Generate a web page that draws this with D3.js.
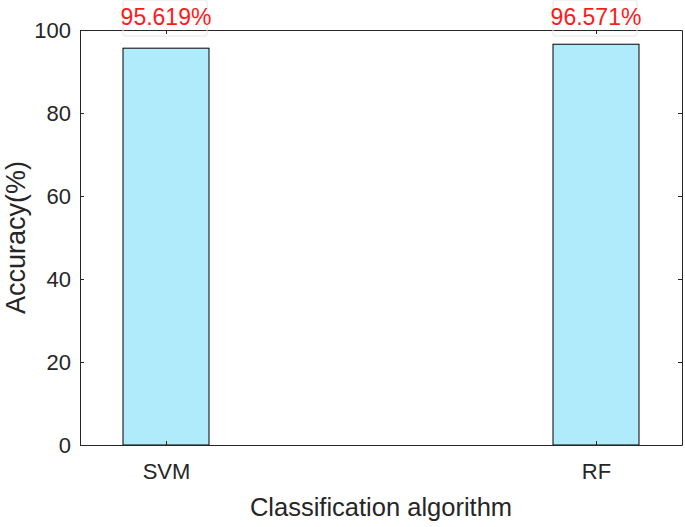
<!DOCTYPE html>
<html>
<head>
<meta charset="utf-8">
<script src="https://cdn.jsdelivr.net/npm/d3@7"></script>
<style>
	body { margin: 0; background: #fff; }
	svg { display: block; font-family: "Liberation Sans", Arial, sans-serif; }
</style>
</head>
<body>
<svg id="chart" width="685" height="527"></svg>
<script>
"use strict";

//
// Data
//
var categories = ["SVM", "RF"];
var positions = [1, 2];
var accuracy = [95.619, 96.571];
var valueLabels = ["95.619%", "96.571%"];
var yTicks = [0, 20, 40, 60, 80, 100];

//
// Setup Variables
//
var margin = { top: 30, right: 3, bottom: 82, left: 80 };
var width = 685 - margin.left - margin.right;
var height = 527 - margin.top - margin.bottom;
var axisColor = "#262626";
var barWidth = 0.2;

var x = d3.scaleLinear().domain([0.8, 2.2]).range([0, width]);
var y = d3.scaleLinear().domain([0, 100]).range([height, 0]);

var svg = d3.select("#chart");
var g = svg.append("g")
	.attr("transform", "translate(" + margin.left + "," + margin.top + ")");

//
// Bars
//
g.selectAll(".bar")
	.data(accuracy)
	.enter()
	.append("rect")
	.attr("class", "bar")
	.attr("x", function(d, i) { return x(positions[i] - barWidth / 2); })
	.attr("width", x(1 + barWidth) - x(1))
	.attr("y", function(d) { return y(d); })
	.attr("height", function(d) { return height - y(d); })
	.attr("fill", "#b0ebfb")
	.attr("stroke", "#000")
	.attr("stroke-width", 1);

//
// Axes
//
var xAxis = d3.axisBottom(x)
	.tickValues(positions)
	.tickFormat(function(d, i) { return categories[i]; })
	.tickSizeInner(-4)
	.tickSizeOuter(0)
	.tickPadding(18);

var yAxis = d3.axisLeft(y)
	.tickValues(yTicks)
	.tickSizeInner(-4)
	.tickSizeOuter(0)
	.tickPadding(9);

g.append("g")
	.attr("id", "x_axis")
	.attr("transform", "translate(0," + height + ")")
	.call(xAxis);

g.append("g")
	.attr("id", "y_axis")
	.call(yAxis);

// top and right box edges with inward ticks
g.append("g")
	.attr("id", "x_axis_top")
	.call(d3.axisTop(x).tickValues(positions).tickFormat("").tickSizeInner(-4).tickSizeOuter(0));

g.append("g")
	.attr("id", "y_axis_right")
	.attr("transform", "translate(" + width + ",0)")
	.call(d3.axisRight(y).tickValues(yTicks).tickFormat("").tickSizeInner(-4).tickSizeOuter(0));

g.selectAll(".domain, .tick line")
	.attr("stroke", axisColor)
	.attr("stroke-width", 1);

g.selectAll(".tick text")
	.attr("fill", axisColor)
	.style("font-size", "22px")
	.style("font-family", "'Liberation Sans', Arial, sans-serif");

g.selectAll("#y_axis .tick text").attr("dy", "0.36em");

//
// Value labels
//
var labels = g.selectAll(".value-label")
	.data(accuracy)
	.enter()
	.append("g")
	.attr("class", "value-label");

labels.append("rect")
	.attr("x", function(d, i) { return x(positions[i] - barWidth / 2); })
	.attr("width", x(1 + barWidth) - x(1) - 2)
	.attr("y", -margin.top)
	.attr("height", 36)
	.attr("rx", 2)
	.attr("fill", "none")
	.attr("stroke", "#e6e6e6")
	.attr("stroke-width", 1);

labels.append("text")
	.attr("x", function(d, i) { return x(positions[i]); })
	.attr("y", -5)
	.attr("text-anchor", "middle")
	.attr("fill", "#ff1a1a")
	.style("font-size", "23px")
	.text(function(d, i) { return valueLabels[i]; });

//
// Axis titles
//
svg.append("text")
	.attr("x", margin.left + width / 2)
	.attr("y", 516)
	.attr("text-anchor", "middle")
	.attr("fill", axisColor)
	.style("font-size", "25.5px")
	.text("Classification algorithm");

svg.append("text")
	.attr("transform", "translate(25," + (margin.top + height / 2) + ") rotate(-90)")
	.attr("text-anchor", "middle")
	.attr("fill", axisColor)
	.style("font-size", "27px")
	.text("Accuracy(%)");
</script>
</body>
</html>
